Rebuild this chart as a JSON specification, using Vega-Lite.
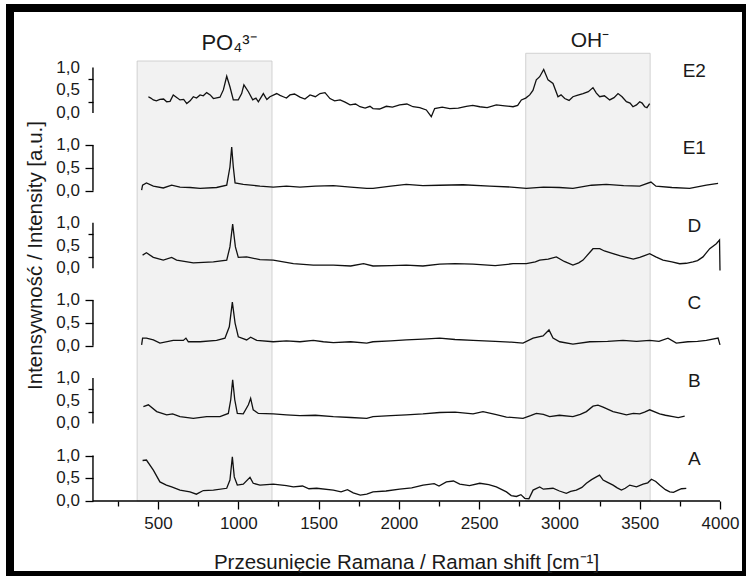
{
"$schema": "https://vega.github.io/schema/vega-lite/v6.json",
"width": 736, "height": 567,
"autosize": "none",
"padding": {"left": 10, "top": 8, "right": 0, "bottom": 1},
"background": "white",
"config": {"view": {"stroke": "black", "strokeWidth": 8, "fill": "white"}, "font": "Liberation Sans", "axis": {"labelOverlap": false}},
"datasets": {
"regions": [{"ion": "PO4", "from": 370, "to": 1210, "top": 9.67}, {"ion": "OH", "from": 2790, "to": 3565, "top": 9.84}],
"panels": [{"s": "A"}, {"s": "B"}, {"s": "C"}, {"s": "D"}, {"s": "E1"}, {"s": "E2"}],
"ticklabels": [
{"s":"A","t":0},{"s":"A","t":0.5},{"s":"A","t":1},
{"s":"B","t":0},{"s":"B","t":0.5},{"s":"B","t":1},
{"s":"C","t":0},{"s":"C","t":0.5},{"s":"C","t":1},
{"s":"D","t":0},{"s":"D","t":0.5},{"s":"D","t":1},
{"s":"E1","t":0},{"s":"E1","t":0.5},{"s":"E1","t":1},
{"s":"E2","t":0},{"s":"E2","t":0.5},{"s":"E2","t":1}
],
"spectra": [
{"s":"A","x":404,"v":0.89},{"s":"A","x":428,"v":0.9},{"s":"A","x":471,"v":0.68},{"s":"A","x":512,"v":0.42},{"s":"A","x":552,"v":0.35},{"s":"A","x":585,"v":0.31},{"s":"A","x":637,"v":0.24},{"s":"A","x":699,"v":0.2},{"s":"A","x":739,"v":0.15},{"s":"A","x":782,"v":0.23},{"s":"A","x":845,"v":0.24},{"s":"A","x":928,"v":0.28},{"s":"A","x":948,"v":0.46},{"s":"A","x":963,"v":0.97},{"s":"A","x":975,"v":0.53},{"s":"A","x":994,"v":0.35},{"s":"A","x":1031,"v":0.37},{"s":"A","x":1073,"v":0.52},{"s":"A","x":1093,"v":0.39},{"s":"A","x":1135,"v":0.35},{"s":"A","x":1218,"v":0.37},{"s":"A","x":1300,"v":0.34},{"s":"A","x":1343,"v":0.31},{"s":"A","x":1400,"v":0.33},{"s":"A","x":1440,"v":0.27},{"s":"A","x":1488,"v":0.28},{"s":"A","x":1592,"v":0.24},{"s":"A","x":1640,"v":0.2},{"s":"A","x":1680,"v":0.25},{"s":"A","x":1716,"v":0.18},{"s":"A","x":1760,"v":0.13},{"s":"A","x":1800,"v":0.15},{"s":"A","x":1839,"v":0.2},{"s":"A","x":1920,"v":0.22},{"s":"A","x":2005,"v":0.26},{"s":"A","x":2080,"v":0.29},{"s":"A","x":2151,"v":0.35},{"s":"A","x":2220,"v":0.38},{"s":"A","x":2250,"v":0.33},{"s":"A","x":2296,"v":0.42},{"s":"A","x":2340,"v":0.44},{"s":"A","x":2379,"v":0.37},{"s":"A","x":2440,"v":0.34},{"s":"A","x":2504,"v":0.39},{"s":"A","x":2560,"v":0.36},{"s":"A","x":2607,"v":0.31},{"s":"A","x":2670,"v":0.2},{"s":"A","x":2700,"v":0.12},{"s":"A","x":2732,"v":0.1},{"s":"A","x":2760,"v":0.14},{"s":"A","x":2784,"v":0.06},{"s":"A","x":2810,"v":0.05},{"s":"A","x":2836,"v":0.24},{"s":"A","x":2877,"v":0.31},{"s":"A","x":2900,"v":0.26},{"s":"A","x":2960,"v":0.28},{"s":"A","x":3000,"v":0.22},{"s":"A","x":3043,"v":0.17},{"s":"A","x":3070,"v":0.21},{"s":"A","x":3105,"v":0.24},{"s":"A","x":3140,"v":0.3},{"s":"A","x":3168,"v":0.39},{"s":"A","x":3200,"v":0.47},{"s":"A","x":3230,"v":0.53},{"s":"A","x":3250,"v":0.57},{"s":"A","x":3272,"v":0.46},{"s":"A","x":3300,"v":0.41},{"s":"A","x":3334,"v":0.35},{"s":"A","x":3360,"v":0.29},{"s":"A","x":3386,"v":0.24},{"s":"A","x":3410,"v":0.28},{"s":"A","x":3438,"v":0.35},{"s":"A","x":3480,"v":0.31},{"s":"A","x":3521,"v":0.37},{"s":"A","x":3550,"v":0.4},{"s":"A","x":3573,"v":0.48},{"s":"A","x":3600,"v":0.43},{"s":"A","x":3624,"v":0.35},{"s":"A","x":3660,"v":0.25},{"s":"A","x":3687,"v":0.2},{"s":"A","x":3710,"v":0.19},{"s":"A","x":3739,"v":0.24},{"s":"A","x":3760,"v":0.27},{"s":"A","x":3790,"v":0.28},
{"s":"B","x":409,"v":0.37},{"s":"B","x":440,"v":0.41},{"s":"B","x":492,"v":0.26},{"s":"B","x":554,"v":0.19},{"s":"B","x":591,"v":0.21},{"s":"B","x":637,"v":0.15},{"s":"B","x":720,"v":0.11},{"s":"B","x":803,"v":0.15},{"s":"B","x":886,"v":0.15},{"s":"B","x":938,"v":0.22},{"s":"B","x":953,"v":0.52},{"s":"B","x":965,"v":0.96},{"s":"B","x":978,"v":0.52},{"s":"B","x":994,"v":0.22},{"s":"B","x":1031,"v":0.21},{"s":"B","x":1063,"v":0.41},{"s":"B","x":1077,"v":0.55},{"s":"B","x":1093,"v":0.3},{"s":"B","x":1125,"v":0.22},{"s":"B","x":1218,"v":0.21},{"s":"B","x":1300,"v":0.19},{"s":"B","x":1384,"v":0.17},{"s":"B","x":1480,"v":0.18},{"s":"B","x":1592,"v":0.15},{"s":"B","x":1700,"v":0.13},{"s":"B","x":1800,"v":0.11},{"s":"B","x":1839,"v":0.15},{"s":"B","x":1950,"v":0.17},{"s":"B","x":2046,"v":0.19},{"s":"B","x":2150,"v":0.21},{"s":"B","x":2254,"v":0.24},{"s":"B","x":2350,"v":0.25},{"s":"B","x":2462,"v":0.21},{"s":"B","x":2524,"v":0.26},{"s":"B","x":2600,"v":0.2},{"s":"B","x":2670,"v":0.14},{"s":"B","x":2773,"v":0.11},{"s":"B","x":2820,"v":0.17},{"s":"B","x":2856,"v":0.22},{"s":"B","x":2900,"v":0.2},{"s":"B","x":2939,"v":0.15},{"s":"B","x":3000,"v":0.18},{"s":"B","x":3084,"v":0.15},{"s":"B","x":3130,"v":0.2},{"s":"B","x":3168,"v":0.26},{"s":"B","x":3209,"v":0.38},{"s":"B","x":3240,"v":0.4},{"s":"B","x":3272,"v":0.36},{"s":"B","x":3334,"v":0.26},{"s":"B","x":3380,"v":0.22},{"s":"B","x":3417,"v":0.19},{"s":"B","x":3460,"v":0.22},{"s":"B","x":3500,"v":0.21},{"s":"B","x":3530,"v":0.25},{"s":"B","x":3562,"v":0.3},{"s":"B","x":3624,"v":0.21},{"s":"B","x":3660,"v":0.18},{"s":"B","x":3707,"v":0.15},{"s":"B","x":3740,"v":0.13},{"s":"B","x":3780,"v":0.16},
{"s":"C","x":398,"v":0.02},{"s":"C","x":404,"v":0.17},{"s":"C","x":428,"v":0.17},{"s":"C","x":471,"v":0.13},{"s":"C","x":512,"v":0.06},{"s":"C","x":595,"v":0.12},{"s":"C","x":658,"v":0.12},{"s":"C","x":674,"v":0.17},{"s":"C","x":689,"v":0.09},{"s":"C","x":762,"v":0.09},{"s":"C","x":865,"v":0.12},{"s":"C","x":917,"v":0.17},{"s":"C","x":944,"v":0.42},{"s":"C","x":963,"v":0.96},{"s":"C","x":980,"v":0.5},{"s":"C","x":1000,"v":0.2},{"s":"C","x":1052,"v":0.13},{"s":"C","x":1077,"v":0.19},{"s":"C","x":1115,"v":0.12},{"s":"C","x":1218,"v":0.09},{"s":"C","x":1300,"v":0.11},{"s":"C","x":1384,"v":0.09},{"s":"C","x":1467,"v":0.12},{"s":"C","x":1530,"v":0.09},{"s":"C","x":1592,"v":0.07},{"s":"C","x":1700,"v":0.09},{"s":"C","x":1800,"v":0.06},{"s":"C","x":1839,"v":0.09},{"s":"C","x":1950,"v":0.11},{"s":"C","x":2046,"v":0.13},{"s":"C","x":2150,"v":0.15},{"s":"C","x":2254,"v":0.17},{"s":"C","x":2350,"v":0.14},{"s":"C","x":2462,"v":0.12},{"s":"C","x":2600,"v":0.1},{"s":"C","x":2700,"v":0.08},{"s":"C","x":2773,"v":0.06},{"s":"C","x":2836,"v":0.17},{"s":"C","x":2898,"v":0.22},{"s":"C","x":2935,"v":0.35},{"s":"C","x":2960,"v":0.17},{"s":"C","x":3002,"v":0.09},{"s":"C","x":3084,"v":0.04},{"s":"C","x":3189,"v":0.09},{"s":"C","x":3300,"v":0.1},{"s":"C","x":3396,"v":0.12},{"s":"C","x":3480,"v":0.1},{"s":"C","x":3562,"v":0.12},{"s":"C","x":3620,"v":0.1},{"s":"C","x":3676,"v":0.17},{"s":"C","x":3728,"v":0.06},{"s":"C","x":3800,"v":0.09},{"s":"C","x":3860,"v":0.1},{"s":"C","x":3915,"v":0.12},{"s":"C","x":3988,"v":0.17},{"s":"C","x":4000,"v":0.02},
{"s":"D","x":404,"v":0.29},{"s":"D","x":428,"v":0.34},{"s":"D","x":471,"v":0.24},{"s":"D","x":533,"v":0.18},{"s":"D","x":585,"v":0.24},{"s":"D","x":616,"v":0.18},{"s":"D","x":720,"v":0.12},{"s":"D","x":845,"v":0.14},{"s":"D","x":928,"v":0.18},{"s":"D","x":948,"v":0.47},{"s":"D","x":965,"v":0.97},{"s":"D","x":982,"v":0.47},{"s":"D","x":1000,"v":0.24},{"s":"D","x":1052,"v":0.25},{"s":"D","x":1135,"v":0.19},{"s":"D","x":1218,"v":0.18},{"s":"D","x":1343,"v":0.1},{"s":"D","x":1467,"v":0.07},{"s":"D","x":1592,"v":0.07},{"s":"D","x":1700,"v":0.05},{"s":"D","x":1780,"v":0.1},{"s":"D","x":1839,"v":0.05},{"s":"D","x":1950,"v":0.06},{"s":"D","x":2046,"v":0.07},{"s":"D","x":2150,"v":0.05},{"s":"D","x":2254,"v":0.09},{"s":"D","x":2350,"v":0.1},{"s":"D","x":2462,"v":0.09},{"s":"D","x":2600,"v":0.06},{"s":"D","x":2711,"v":0.1},{"s":"D","x":2794,"v":0.1},{"s":"D","x":2850,"v":0.14},{"s":"D","x":2877,"v":0.18},{"s":"D","x":2930,"v":0.2},{"s":"D","x":2981,"v":0.25},{"s":"D","x":3030,"v":0.15},{"s":"D","x":3084,"v":0.07},{"s":"D","x":3120,"v":0.12},{"s":"D","x":3147,"v":0.18},{"s":"D","x":3209,"v":0.43},{"s":"D","x":3251,"v":0.43},{"s":"D","x":3280,"v":0.38},{"s":"D","x":3334,"v":0.32},{"s":"D","x":3380,"v":0.27},{"s":"D","x":3417,"v":0.24},{"s":"D","x":3460,"v":0.2},{"s":"D","x":3500,"v":0.24},{"s":"D","x":3530,"v":0.28},{"s":"D","x":3562,"v":0.32},{"s":"D","x":3600,"v":0.25},{"s":"D","x":3645,"v":0.18},{"s":"D","x":3700,"v":0.14},{"s":"D","x":3749,"v":0.1},{"s":"D","x":3790,"v":0.11},{"s":"D","x":3832,"v":0.14},{"s":"D","x":3860,"v":0.17},{"s":"D","x":3894,"v":0.25},{"s":"D","x":3936,"v":0.43},{"s":"D","x":3977,"v":0.54},{"s":"D","x":3997,"v":0.62},{"s":"D","x":4000,"v":-0.05},
{"s":"E1","x":398,"v":0.01},{"s":"E1","x":404,"v":0.12},{"s":"E1","x":428,"v":0.17},{"s":"E1","x":471,"v":0.1},{"s":"E1","x":533,"v":0.06},{"s":"E1","x":585,"v":0.12},{"s":"E1","x":637,"v":0.08},{"s":"E1","x":700,"v":0.07},{"s":"E1","x":762,"v":0.05},{"s":"E1","x":865,"v":0.07},{"s":"E1","x":928,"v":0.12},{"s":"E1","x":948,"v":0.52},{"s":"E1","x":959,"v":0.96},{"s":"E1","x":969,"v":0.52},{"s":"E1","x":980,"v":0.17},{"s":"E1","x":1031,"v":0.14},{"s":"E1","x":1135,"v":0.1},{"s":"E1","x":1218,"v":0.08},{"s":"E1","x":1300,"v":0.1},{"s":"E1","x":1384,"v":0.08},{"s":"E1","x":1480,"v":0.1},{"s":"E1","x":1592,"v":0.11},{"s":"E1","x":1700,"v":0.08},{"s":"E1","x":1800,"v":0.05},{"s":"E1","x":1839,"v":0.05},{"s":"E1","x":1950,"v":0.1},{"s":"E1","x":2046,"v":0.14},{"s":"E1","x":2150,"v":0.11},{"s":"E1","x":2254,"v":0.12},{"s":"E1","x":2400,"v":0.13},{"s":"E1","x":2566,"v":0.1},{"s":"E1","x":2700,"v":0.08},{"s":"E1","x":2794,"v":0.05},{"s":"E1","x":2900,"v":0.08},{"s":"E1","x":3000,"v":0.07},{"s":"E1","x":3084,"v":0.05},{"s":"E1","x":3200,"v":0.12},{"s":"E1","x":3292,"v":0.14},{"s":"E1","x":3400,"v":0.11},{"s":"E1","x":3500,"v":0.1},{"s":"E1","x":3570,"v":0.19},{"s":"E1","x":3601,"v":0.1},{"s":"E1","x":3700,"v":0.07},{"s":"E1","x":3811,"v":0.05},{"s":"E1","x":3915,"v":0.12},{"s":"E1","x":3988,"v":0.16},
{"s":"E2","x":440,"v":0.36},{"s":"E2","x":455,"v":0.33},{"s":"E2","x":471,"v":0.29},{"s":"E2","x":490,"v":0.27},{"s":"E2","x":512,"v":0.3},{"s":"E2","x":535,"v":0.31},{"s":"E2","x":554,"v":0.25},{"s":"E2","x":575,"v":0.26},{"s":"E2","x":595,"v":0.4},{"s":"E2","x":637,"v":0.29},{"s":"E2","x":660,"v":0.3},{"s":"E2","x":679,"v":0.21},{"s":"E2","x":700,"v":0.27},{"s":"E2","x":720,"v":0.36},{"s":"E2","x":740,"v":0.33},{"s":"E2","x":762,"v":0.4},{"s":"E2","x":782,"v":0.38},{"s":"E2","x":803,"v":0.45},{"s":"E2","x":825,"v":0.4},{"s":"E2","x":845,"v":0.32},{"s":"E2","x":886,"v":0.35},{"s":"E2","x":907,"v":0.51},{"s":"E2","x":928,"v":0.81},{"s":"E2","x":948,"v":0.58},{"s":"E2","x":969,"v":0.29},{"s":"E2","x":1000,"v":0.29},{"s":"E2","x":1021,"v":0.43},{"s":"E2","x":1035,"v":0.62},{"s":"E2","x":1063,"v":0.47},{"s":"E2","x":1090,"v":0.29},{"s":"E2","x":1110,"v":0.33},{"s":"E2","x":1125,"v":0.25},{"s":"E2","x":1156,"v":0.43},{"s":"E2","x":1178,"v":0.3},{"s":"E2","x":1197,"v":0.36},{"s":"E2","x":1239,"v":0.43},{"s":"E2","x":1260,"v":0.39},{"s":"E2","x":1280,"v":0.36},{"s":"E2","x":1300,"v":0.33},{"s":"E2","x":1322,"v":0.4},{"s":"E2","x":1350,"v":0.42},{"s":"E2","x":1384,"v":0.35},{"s":"E2","x":1415,"v":0.31},{"s":"E2","x":1447,"v":0.4},{"s":"E2","x":1480,"v":0.36},{"s":"E2","x":1509,"v":0.43},{"s":"E2","x":1540,"v":0.45},{"s":"E2","x":1571,"v":0.32},{"s":"E2","x":1600,"v":0.27},{"s":"E2","x":1634,"v":0.29},{"s":"E2","x":1665,"v":0.24},{"s":"E2","x":1696,"v":0.18},{"s":"E2","x":1730,"v":0.2},{"s":"E2","x":1758,"v":0.14},{"s":"E2","x":1790,"v":0.11},{"s":"E2","x":1820,"v":0.15},{"s":"E2","x":1839,"v":0.1},{"s":"E2","x":1880,"v":0.09},{"s":"E2","x":1922,"v":0.15},{"s":"E2","x":1960,"v":0.13},{"s":"E2","x":2005,"v":0.18},{"s":"E2","x":2050,"v":0.2},{"s":"E2","x":2088,"v":0.14},{"s":"E2","x":2130,"v":0.12},{"s":"E2","x":2171,"v":0.07},{"s":"E2","x":2202,"v":-0.08},{"s":"E2","x":2223,"v":0.1},{"s":"E2","x":2270,"v":0.13},{"s":"E2","x":2317,"v":0.1},{"s":"E2","x":2370,"v":0.11},{"s":"E2","x":2420,"v":0.15},{"s":"E2","x":2460,"v":0.17},{"s":"E2","x":2504,"v":0.14},{"s":"E2","x":2550,"v":0.12},{"s":"E2","x":2607,"v":0.18},{"s":"E2","x":2660,"v":0.16},{"s":"E2","x":2711,"v":0.14},{"s":"E2","x":2740,"v":0.17},{"s":"E2","x":2763,"v":0.29},{"s":"E2","x":2790,"v":0.33},{"s":"E2","x":2815,"v":0.4},{"s":"E2","x":2835,"v":0.5},{"s":"E2","x":2856,"v":0.73},{"s":"E2","x":2877,"v":0.8},{"s":"E2","x":2902,"v":0.96},{"s":"E2","x":2929,"v":0.73},{"s":"E2","x":2960,"v":0.65},{"s":"E2","x":2991,"v":0.36},{"s":"E2","x":3010,"v":0.4},{"s":"E2","x":3033,"v":0.32},{"s":"E2","x":3060,"v":0.28},{"s":"E2","x":3084,"v":0.36},{"s":"E2","x":3110,"v":0.39},{"s":"E2","x":3147,"v":0.43},{"s":"E2","x":3180,"v":0.47},{"s":"E2","x":3209,"v":0.56},{"s":"E2","x":3230,"v":0.44},{"s":"E2","x":3251,"v":0.36},{"s":"E2","x":3280,"v":0.38},{"s":"E2","x":3313,"v":0.29},{"s":"E2","x":3340,"v":0.34},{"s":"E2","x":3365,"v":0.43},{"s":"E2","x":3390,"v":0.36},{"s":"E2","x":3417,"v":0.25},{"s":"E2","x":3440,"v":0.22},{"s":"E2","x":3458,"v":0.14},{"s":"E2","x":3480,"v":0.18},{"s":"E2","x":3500,"v":0.25},{"s":"E2","x":3515,"v":0.22},{"s":"E2","x":3531,"v":0.14},{"s":"E2","x":3545,"v":0.12},{"s":"E2","x":3562,"v":0.21}
]
},
"layer": [
{
"data": {"name": "regions"},
"mark": {"type": "rect", "fill": "#f2f2f2", "stroke": "#c8c8c8", "strokeWidth": 0.8},
"encoding": {
"x": {"field": "from", "type": "quantitative", "scale": {"domain": [-421.7, 4161.9], "nice": false, "zero": false}},
"x2": {"field": "to"},
"y": {"field": "top", "type": "quantitative", "scale": {"domain": [-1.626, 10.835], "nice": false, "zero": false}},
"y2": {"datum": 0}
}
},
{
"data": {"name": "spectra"},
"transform": [
{"calculate": "indexof(['A','B','C','D','E1','E2'], datum.s) * 1.705", "as": "off"},
{"calculate": "datum.v + datum.off", "as": "y"}
],
"mark": {"type": "line", "color": "#111111", "strokeWidth": 1.3},
"encoding": {
"detail": {"field": "s"},
"x": {"field": "x", "type": "quantitative", "scale": {"domain": [-421.7, 4161.9], "nice": false, "zero": false},
"axis": {"values": [250, 500, 750, 1000, 1250, 1500, 1750, 2000, 2250, 2500, 2750, 3000, 3250, 3500, 3750, 4000],
"domain": false, "grid": false, "offset": -74, "tickColor": "black", "tickWidth": 1.3,
"tickSize": {"condition": {"test": "datum.value % 500 === 0", "value": 8}, "value": 5},
"format": "d", "labelExpr": "datum.value % 500 === 0 ? datum.label : ''", "labelOverlap": false, "labelFlush": false,
"labelFontSize": 17, "labelColor": "#1a1a1a", "labelPadding": 6, "labelFont": "Liberation Sans",
"title": "Przesunięcie Ramana / Raman shift [cm⁻¹]", "titleFont": "Liberation Sans", "titleFontSize": 20.5, "titleFontWeight": "normal",
"titleColor": "#1a1a1a", "titleX": 396, "titleY": 67, "titleBaseline": "alphabetic"}},
"y": {"field": "y", "type": "quantitative", "scale": {"domain": [-1.626, 10.835], "nice": false, "zero": false},
"axis": {"values": [0, 0.25, 0.5, 0.75, 1, 1.705, 1.955, 2.205, 2.455, 2.705, 3.41, 3.66, 3.91, 4.16, 4.41, 5.115, 5.365, 5.615, 5.865, 6.115, 6.82, 7.07, 7.32, 7.57, 7.82, 8.525, 8.775, 9.025, 9.275, 9.525],
"domain": false, "grid": false, "offset": -83, "tickColor": "black", "tickWidth": 1.3,
"tickSize": {"condition": {"test": "abs((datum.value - floor((datum.value + 0.01) / 1.705) * 1.705) * 2 - round((datum.value - floor((datum.value + 0.01) / 1.705) * 1.705) * 2)) < 0.05", "value": 8}, "value": 5},
"labels": false,
"title": "Intensywność / Intensity [a.u.]", "titleFont": "Liberation Sans", "titleFontSize": 20.5, "titleFontWeight": "normal",
"titleColor": "#1a1a1a", "titleX": -52, "titleY": 247, "titleAngle": 270, "titleBaseline": "alphabetic"}}
}
},
{
"data": {"name": "ticklabels"},
"transform": [
{"calculate": "indexof(['A','B','C','D','E1','E2'], datum.s) * 1.705 + datum.t", "as": "ty"},
{"calculate": "replace(format(datum.t, '.1f'), '.', ',')", "as": "lab"}
],
"mark": {"type": "text", "fontSize": 17, "align": "right", "baseline": "middle", "dx": -13, "color": "#1a1a1a", "font": "Liberation Sans"},
"encoding": {
"text": {"field": "lab"},
"x": {"datum": 95, "type": "quantitative", "scale": {"domain": [-421.7, 4161.9], "nice": false, "zero": false}},
"y": {"field": "ty", "type": "quantitative", "scale": {"domain": [-1.626, 10.835], "nice": false, "zero": false}}
}
},
{
"data": {"name": "panels"},
"transform": [
{"calculate": "indexof(['A','B','C','D','E1','E2'], datum.s) * 1.705", "as": "off"},
{"calculate": "datum.off + 1", "as": "off1"}
],
"mark": {"type": "rule", "color": "black", "strokeWidth": 1.4},
"encoding": {
"x": {"datum": 95, "type": "quantitative", "scale": {"domain": [-421.7, 4161.9], "nice": false, "zero": false}},
"y": {"field": "off", "type": "quantitative", "scale": {"domain": [-1.626, 10.835], "nice": false, "zero": false}},
"y2": {"field": "off1"}
}
},
{
"data": {"name": "panels"},
"transform": [{"filter": "datum.s === 'A'"}],
"mark": {"type": "rule", "color": "black", "strokeWidth": 1.4},
"encoding": {
"x": {"datum": 95, "type": "quantitative", "scale": {"domain": [-421.7, 4161.9], "nice": false, "zero": false}},
"x2": {"datum": 4000},
"y": {"datum": 0, "type": "quantitative", "scale": {"domain": [-1.626, 10.835], "nice": false, "zero": false}}
}
},
{
"data": {"name": "panels"},
"transform": [
{"calculate": "indexof(['A','B','C','D','E1','E2'], datum.s) * 1.705 + 0.8", "as": "ly"}
],
"mark": {"type": "text", "fontSize": 19, "baseline": "alphabetic", "align": "center", "color": "#1a1a1a", "font": "Liberation Sans"},
"encoding": {
"text": {"field": "s"},
"x": {"datum": 3840, "type": "quantitative", "scale": {"domain": [-421.7, 4161.9], "nice": false, "zero": false}},
"y": {"field": "ly", "type": "quantitative", "scale": {"domain": [-1.626, 10.835], "nice": false, "zero": false}}
}
},
{
"data": {"name": "regions"},
"transform": [{"filter": "datum.ion === 'PO4'"}],
"mark": {"type": "text", "fontSize": 22, "baseline": "alphabetic", "align": "center", "color": "#1a1a1a", "font": "Liberation Sans", "text": "PO₄³⁻"},
"encoding": {
"x": {"datum": 942, "type": "quantitative", "scale": {"domain": [-421.7, 4161.9], "nice": false, "zero": false}},
"y": {"datum": 9.91, "type": "quantitative", "scale": {"domain": [-1.626, 10.835], "nice": false, "zero": false}}
}
},
{
"data": {"name": "regions"},
"transform": [{"filter": "datum.ion === 'OH'"}],
"mark": {"type": "text", "fontSize": 21, "baseline": "alphabetic", "align": "center", "color": "#1a1a1a", "font": "Liberation Sans", "text": "OH⁻"},
"encoding": {
"x": {"datum": 3190, "type": "quantitative", "scale": {"domain": [-421.7, 4161.9], "nice": false, "zero": false}},
"y": {"datum": 9.985, "type": "quantitative", "scale": {"domain": [-1.626, 10.835], "nice": false, "zero": false}}
}
}
]
}
